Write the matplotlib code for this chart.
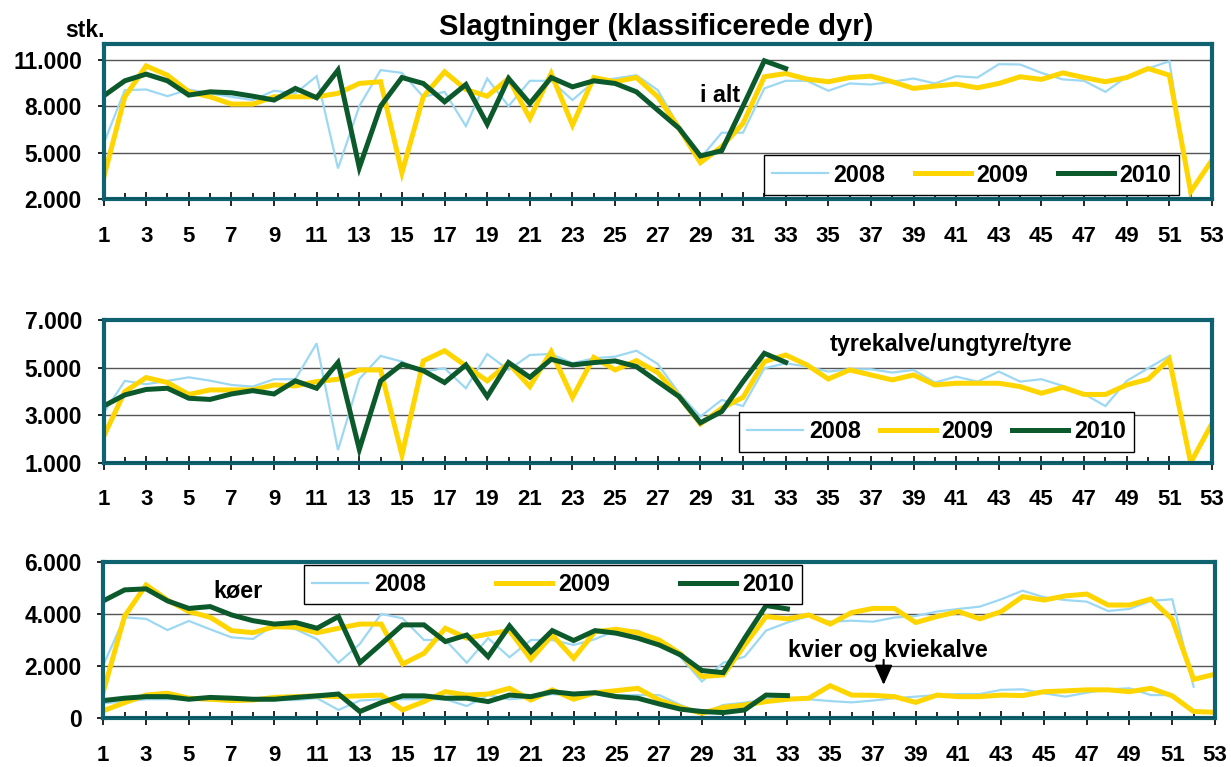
import matplotlib
matplotlib.use('Agg')
import matplotlib.pyplot as plt
from matplotlib.ticker import FuncFormatter, FixedLocator
from matplotlib.lines import Line2D

plt.rcParams['font.family'] = ['Liberation Sans', 'DejaVu Sans']
plt.rcParams['font.weight'] = 'bold'

# week numbers and year labels
weeks_2008 = list(range(1, 53))
weeks_2009 = list(range(1, 54))
weeks_2010 = list(range(1, 34))
years = ['2008', '2009', '2010']

# panel 1: i alt (all classified animals)
alt_2008 = [5560, 9030, 9070, 8640, 9070, 8820, 8600, 8390, 8990, 8820, 9930, 3990, 8000,
            10320, 10140, 8600, 8920, 6710, 9780, 8000, 9630, 9630, 8390, 9570, 9780, 9990,
            9030, 6670, 4640, 6290, 6290, 9140, 9630, 9630, 8990, 9460, 9390, 9570, 9780,
            9460, 9930, 9840, 10700, 10680, 10140, 9720, 9630, 8920, 9890, 10420, 10890, 2000]
alt_2009 = [3350, 8600, 10590, 9990, 8920, 8600, 8130, 8130, 8600, 8600, 8600, 8820, 9460,
            9570, 3710, 8600, 10210, 9070, 8640, 9780, 7210, 10100, 6780, 9840, 9570, 9840,
            8600, 6570, 4360, 5390, 6890, 9890, 10100, 9740, 9570, 9840, 9930, 9570, 9140,
            9290, 9420, 9180, 9460, 9890, 9720, 10140, 9840, 9570, 9840, 10420, 9990, 2490, 4530]
alt_2010 = [8650, 9630, 10060, 9630, 8710, 8920, 8860, 8640, 8390, 9140, 8540, 10320, 4040,
            8000, 9840, 9460, 8280, 9390, 6840, 9780, 8170, 9840, 9240, 9630, 9460, 8920,
            7740, 6570, 4790, 5130, 8000, 10920, 10420]

# panel 2: tyrekalve/ungtyre/tyre
tyr_2008 = [3080, 4440, 4300, 4440, 4590, 4450, 4270, 4200, 4510, 4510, 6020, 1530, 4520,
            5490, 5250, 4830, 4970, 4130, 5570, 4900, 5530, 5570, 5180, 5390, 5460, 5710,
            5150, 3920, 2940, 3640, 3380, 4970, 5180, 5040, 4830, 4930, 4930, 4790, 4900,
            4370, 4620, 4410, 4830, 4410, 4510, 4230, 3890, 3380, 4440, 4970, 5490, 1000]
tyr_2009 = [2090, 3990, 4580, 4370, 3870, 4060, 4060, 4060, 4270, 4230, 4410, 4510, 4900,
            4900, 1320, 5280, 5710, 5070, 4440, 5180, 4200, 5670, 3750, 5430, 4900, 5290,
            4790, 3780, 2630, 3290, 3750, 5250, 5530, 5110, 4520, 4900, 4690, 4480, 4690,
            4270, 4340, 4340, 4340, 4200, 3920, 4170, 3870, 3870, 4270, 4510, 5350, 1000, 2650]
tyr_2010 = [3380, 3850, 4080, 4130, 3710, 3660, 3890, 4030, 3890, 4440, 4130, 5210, 1560,
            4440, 5140, 4870, 4370, 5110, 3780, 5210, 4590, 5350, 5110, 5210, 5280, 5040,
            4410, 3780, 2680, 3150, 4410, 5600, 5220]

# panel 3: koeer (upper lines) and kvier og kviekalve (lower lines)
koer_2008 = [2040, 3870, 3810, 3380, 3730, 3410, 3100, 3040, 3580, 3410, 3030, 2130, 2850,
             4000, 3830, 3000, 3000, 2130, 3070, 2340, 3000, 3000, 2810, 3030, 3380, 3360,
             2940, 2340, 1410, 2130, 2360, 3360, 3670, 3920, 3700, 3740, 3700, 3860, 3920,
             4090, 4190, 4280, 4560, 4890, 4640, 4530, 4470, 4110, 4190, 4500, 4560, 1210]
koer_2009 = [1020, 3920, 5110, 4530, 4090, 3870, 3360, 3280, 3510, 3490, 3280, 3450, 3610,
             3610, 2080, 2490, 3450, 3070, 3230, 3360, 2260, 3190, 2300, 3320, 3410, 3280,
             3000, 2470, 1600, 1660, 2810, 3900, 3810, 3960, 3610, 4050, 4210, 4210, 3670,
             3900, 4090, 3810, 4090, 4660, 4530, 4690, 4760, 4340, 4340, 4570, 3790, 1490, 1690]
koer_2010 = [4500, 4920, 4960, 4500, 4210, 4280, 3960, 3740, 3610, 3670, 3450, 3900, 2130,
             2850, 3580, 3580, 2940, 3190, 2360, 3540, 2550, 3360, 2980, 3360, 3260, 3070,
             2810, 2430, 1830, 1750, 3070, 4320, 4190]

kvier_2008 = [580, 640, 730, 730, 730, 680, 700, 700, 700, 700, 770, 320, 680, 730, 730, 730,
              730, 470, 890, 730, 800, 930, 860, 980, 890, 890, 890, 510, 190, 510, 600, 730,
              800, 730, 660, 610, 680, 770, 830, 890, 930, 930, 1090, 1110, 960, 830, 980,
              1110, 1150, 890, 890, 250]
kvier_2009 = [290, 600, 890, 960, 770, 730, 680, 700, 800, 830, 860, 830, 860, 890, 320, 640,
              1020, 890, 930, 1150, 700, 1090, 730, 980, 1060, 1150, 700, 420, 190, 420, 510,
              640, 730, 770, 1250, 890, 880, 830, 610, 890, 830, 830, 890, 870, 1020, 1050,
              1090, 1090, 1020, 1150, 860, 260, 230]
kvier_2010 = [680, 770, 830, 830, 730, 800, 770, 730, 730, 800, 860, 930, 260, 600, 860, 860,
              770, 770, 640, 890, 830, 1020, 930, 980, 830, 770, 550, 350, 260, 220, 320, 890, 870]

# styles per year
colors = ['#9dd8f3', '#ffd500', '#0c5a2c']
widths = [1.6, 3.6, 3.6]
teal = '#0f6270'

W, H = 1231, 767
fig = plt.figure(figsize=(W / 100, H / 100), dpi=100)

def px(x, y):
    # pixel position -> figure fraction
    return x / W, 1 - y / H

def thousands(v, pos):
    return '{:,}'.format(int(v)).replace(',', '.')

def style_axes(ax, ymin, ymax, yticks):
    ax.set_xlim(1, 53)
    ax.set_ylim(ymin, ymax)
    ax.xaxis.set_major_locator(FixedLocator(range(1, 54, 2)))
    ax.xaxis.set_minor_locator(FixedLocator(range(2, 53, 2)))
    ax.yaxis.set_major_locator(FixedLocator(yticks))
    ax.yaxis.set_major_formatter(FuncFormatter(thousands))
    ax.tick_params(axis='x', which='major', direction='inout', length=10, width=1.2,
                   pad=14, labelsize=16)
    ax.tick_params(axis='x', which='minor', direction='in', length=4.5, width=1.2)
    ax.tick_params(axis='y', direction='out', length=4.5, width=1.2, pad=11, labelsize=16.5)
    ax.grid(axis='y', color='#555555', linewidth=1.0)
    ax.set_axisbelow(True)
    for s in ax.spines.values():
        s.set_color(teal)
        s.set_linewidth(3)
    ax.axhline(ymin, color='black', linewidth=1, zorder=3)

def add_legend(ax, cx, cy, colspace):
    handles = [Line2D([], [], color=c, lw=w) for c, w in zip(colors, widths)]
    leg = ax.legend(handles, years, loc='center', bbox_to_anchor=px(cx, cy),
                    bbox_transform=fig.transFigure, ncol=3, fontsize=16.8, frameon=True,
                    fancybox=False, edgecolor='black', framealpha=1, borderpad=0.35,
                    handlelength=2.4, handletextpad=0.25, columnspacing=colspace)
    leg.get_frame().set_linewidth(1.0)
    leg.set_zorder(10)

# panel 1
ax1 = fig.add_axes([103.5 / W, 1 - 199.3 / H, 1108.5 / W, 155.3 / H])
for wk, vals, c, w in zip([weeks_2008, weeks_2009, weeks_2010],
                          [alt_2008, alt_2009, alt_2010], colors, widths):
    ax1.plot(wk, vals, color=c, lw=w, solid_joinstyle='miter')
style_axes(ax1, 2000, 12000, [2000, 5000, 8000, 11000])
add_legend(ax1, 971.5, 175, 1.25)

# panel 2
ax2 = fig.add_axes([103.5 / W, 1 - 462.7 / H, 1108.5 / W, 142.7 / H])
for wk, vals, c, w in zip([weeks_2008, weeks_2009, weeks_2010],
                          [tyr_2008, tyr_2009, tyr_2010], colors, widths):
    ax2.plot(wk, vals, color=c, lw=w, solid_joinstyle='miter')
style_axes(ax2, 1000, 7000, [1000, 3000, 5000, 7000])
add_legend(ax2, 936.5, 432, 0.8)

# panel 3
ax3 = fig.add_axes([103.3 / W, 1 - 718.3 / H, 1111.7 / W, 156.6 / H])
for wk, up, low, c, w in zip([weeks_2008, weeks_2009, weeks_2010],
                             [koer_2008, koer_2009, koer_2010],
                             [kvier_2008, kvier_2009, kvier_2010], colors, widths):
    ax3.plot(wk, up, color=c, lw=w, solid_joinstyle='miter')
    ax3.plot(wk, low, color=c, lw=w, solid_joinstyle='miter')
style_axes(ax3, 0, 6000, [0, 2000, 4000, 6000])
add_legend(ax3, 553, 584.5, 3.0)
ax3.annotate('', xy=(37.5, 1280), xytext=(37.5, 2240),
             arrowprops=dict(arrowstyle='-|>,head_width=0.27,head_length=0.6',
                             mutation_scale=20, color='black', lw=1.5,
                             shrinkA=0, shrinkB=0))

# texts
fig.text(*px(656, 35), 'Slagtninger (klassificerede dyr)', ha='center', va='baseline',
         fontsize=21)
fig.text(*px(65, 36.7), 'stk.', ha='left', va='baseline', fontsize=16.5)
fig.text(*px(700, 101.7), 'i alt', ha='left', va='baseline', fontsize=16.8)
fig.text(*px(830, 350.7), 'tyrekalve/ungtyre/tyre', ha='left', va='baseline', fontsize=16.8)
fig.text(*px(213, 597), 'køer', ha='left', va='baseline', fontsize=16.8)
fig.text(*px(788, 656.7), 'kvier og kviekalve', ha='left', va='baseline', fontsize=16.8)

fig.savefig('out.png', dpi=100)
